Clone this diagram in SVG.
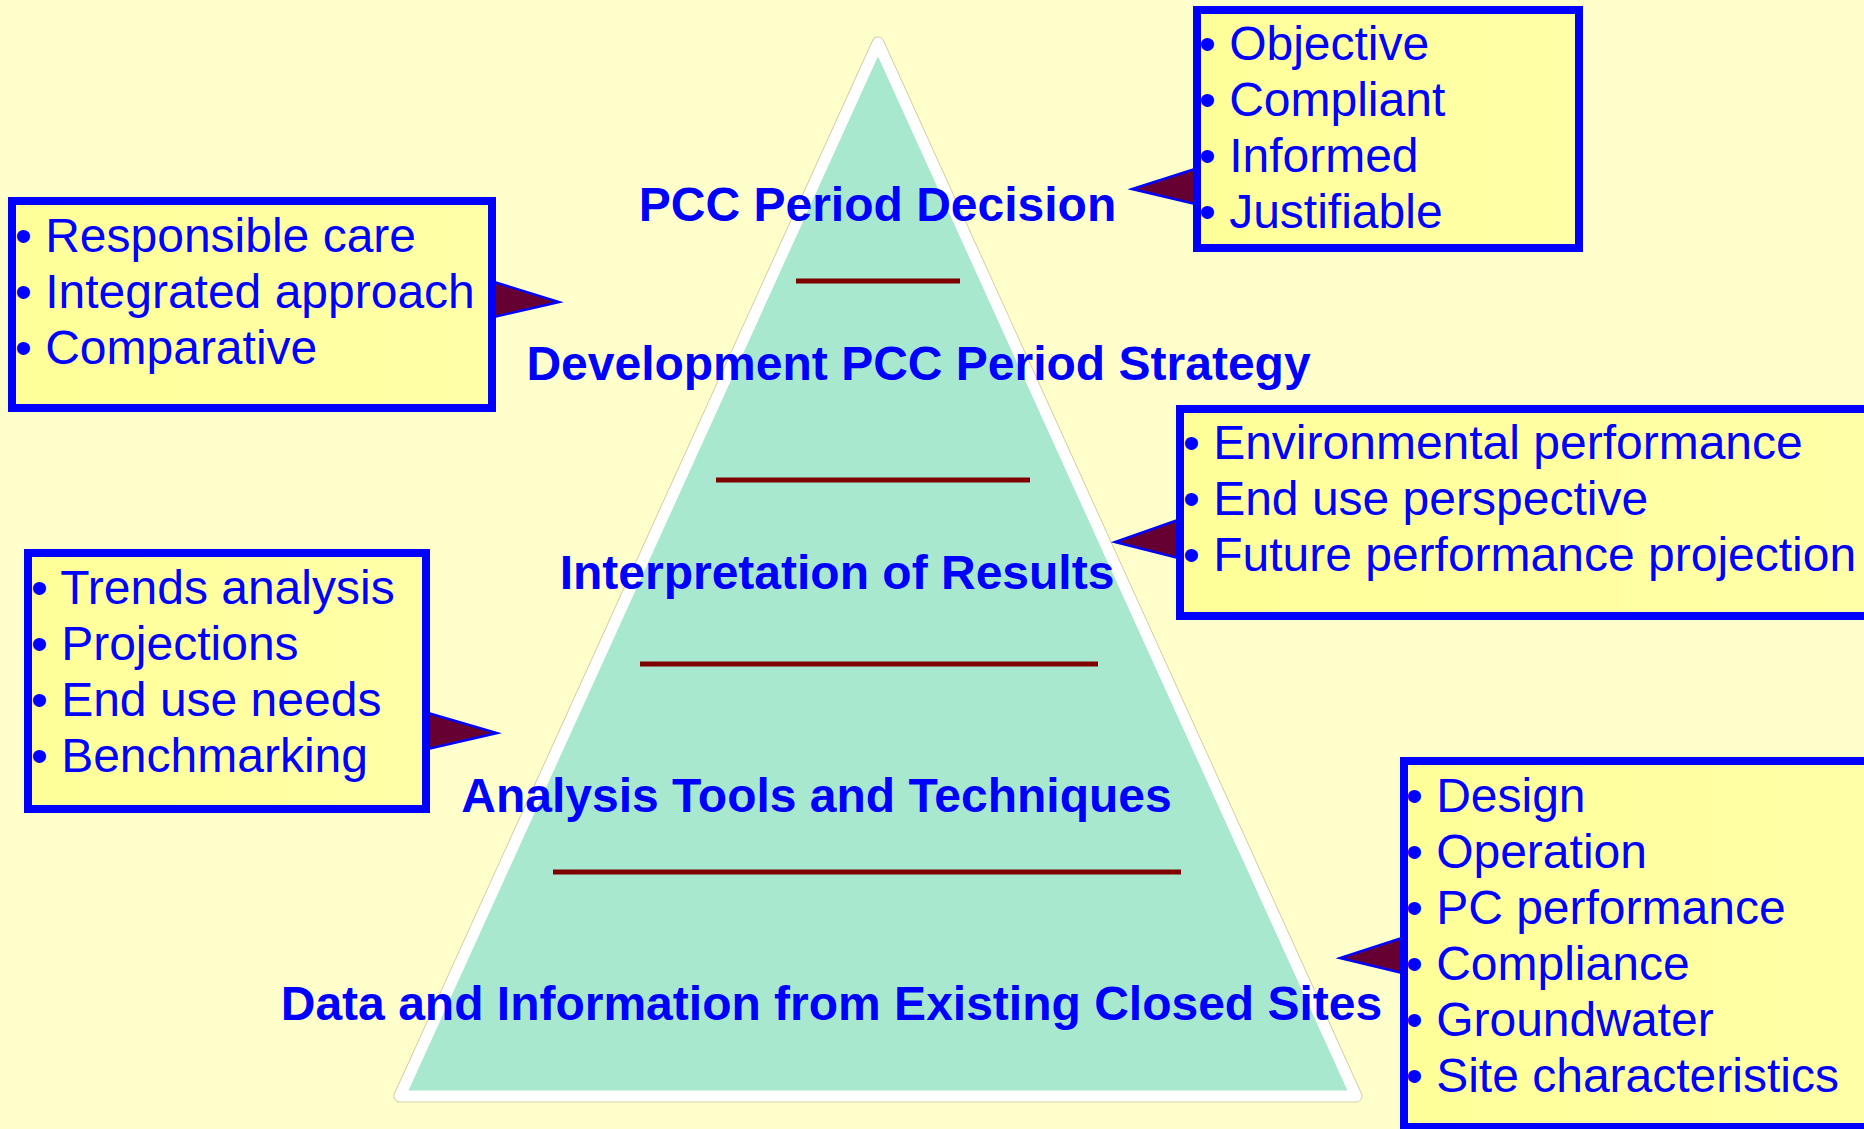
<svg xmlns="http://www.w3.org/2000/svg" width="1864" height="1129" viewBox="0 0 1864 1129">
<defs>
<linearGradient id="boxfill" x1="0" y1="0" x2="1" y2="0">
<stop offset="0" stop-color="#FFFF99"/>
<stop offset="1" stop-color="#FFFFA8"/>
</linearGradient>
<style>
.box{fill:url(#boxfill);stroke:#0000FF;stroke-width:8}
.wedge{fill:#660033;stroke:#0000FF;stroke-width:2.5;stroke-linejoin:miter}
.item{font-family:"Liberation Sans",Arial,sans-serif;font-size:48px;fill:#0000FF}
.lvl{font-family:"Liberation Sans",Arial,sans-serif;font-size:48px;font-weight:bold;fill:#0000FF;text-anchor:middle}
.sep{stroke:#800000;stroke-width:5}
</style>
</defs>
<rect x="0" y="0" width="1864" height="1129" fill="#FFFFCC"/>

<g id="pyramid">
<polygon points="878,43 400,1096 1356,1096" fill="none" stroke="#D6D0A4" stroke-width="13" stroke-linejoin="round"/>
<polygon points="878,43 400,1096 1356,1096" fill="#A7E8CF" stroke="#FFFFFF" stroke-width="11" stroke-linejoin="round"/>
<line class="sep" x1="796" y1="281" x2="960" y2="281"/>
<line class="sep" x1="716" y1="480" x2="1030" y2="480"/>
<line class="sep" x1="640" y1="664" x2="1098" y2="664"/>
<line class="sep" x1="553" y1="872" x2="1181" y2="872"/>
</g>

<g id="connectors">
<polygon class="wedge" points="1195,169 1132,189 1195,204"/>
<polygon class="wedge" points="494,282 559,302 494,317"/>
<polygon class="wedge" points="1178,520 1115,542 1178,558"/>
<polygon class="wedge" points="428,713 497,733 428,749"/>
<polygon class="wedge" points="1402,938 1340,958 1402,973"/>
</g>

<g id="level-decision"><text class="lvl" x="877.5" y="221">PCC Period Decision</text></g>
<g id="level-strategy"><text class="lvl" x="918.5" y="380">Development PCC Period Strategy</text></g>
<g id="level-interpretation"><text class="lvl" x="837" y="589">Interpretation of Results</text></g>
<g id="level-analysis"><text class="lvl" x="816.5" y="812">Analysis Tools and Techniques</text></g>
<g id="level-data"><text class="lvl" x="831.5" y="1020">Data and Information from Existing Closed Sites</text></g>

<g id="box-decision">
<rect class="box" x="1197" y="10" width="382" height="238"/>
<text class="item" x="1199" y="60">• Objective</text>
<text class="item" x="1199" y="116">• Compliant</text>
<text class="item" x="1199" y="172">• Informed</text>
<text class="item" x="1199" y="228">• Justifiable</text>
</g>

<g id="box-strategy">
<rect class="box" x="12" y="201" width="480" height="207"/>
<text class="item" x="15" y="252">• Responsible care</text>
<text class="item" x="15" y="308">• Integrated approach</text>
<text class="item" x="15" y="364">• Comparative</text>
</g>

<g id="box-interpretation">
<rect class="box" x="1180" y="409" width="700" height="207"/>
<text class="item" x="1183" y="459">• Environmental performance</text>
<text class="item" x="1183" y="515">• End use perspective</text>
<text class="item" x="1183" y="571">• Future performance projection</text>
</g>

<g id="box-analysis">
<rect class="box" x="28" y="553" width="398" height="256"/>
<text class="item" x="31" y="604">• Trends analysis</text>
<text class="item" x="31" y="660">• Projections</text>
<text class="item" x="31" y="716">• End use needs</text>
<text class="item" x="31" y="772">• Benchmarking</text>
</g>

<g id="box-data">
<rect class="box" x="1404" y="761" width="480" height="366"/>
<text class="item" x="1406" y="812">• Design</text>
<text class="item" x="1406" y="868">• Operation</text>
<text class="item" x="1406" y="924">• PC performance</text>
<text class="item" x="1406" y="980">• Compliance</text>
<text class="item" x="1406" y="1036">• Groundwater</text>
<text class="item" x="1406" y="1092">• Site characteristics</text>
</g>
</svg>
